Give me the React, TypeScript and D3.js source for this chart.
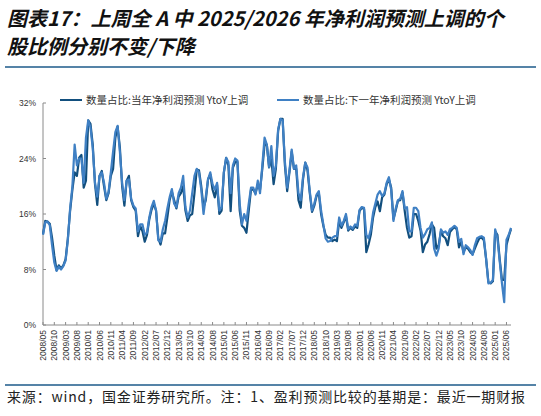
import * as d3 from "d3";
import React from "react";

// 2008/05 onwards, one value per month (%)
const curYear: number[] = [
  13.1, 15.0, 14.9, 14.6, 12.6, 10.0, 7.9, 8.6, 8.2, 8.6, 9.5, 12.5,
  16.5, 19.5, 22.0, 21.5, 24.1, 24.5, 19.8, 20.8, 29.5, 29.0, 26.0, 20.3,
  17.3, 21.5, 22.2, 20.0, 18.0, 19.0, 21.5, 22.5, 27.0, 28.6, 25.6, 20.0,
  17.2, 20.8, 21.5, 18.0, 17.0, 16.5, 12.8, 14.3, 13.5, 12.0, 13.0, 15.2,
  16.6, 17.5, 16.5, 12.5, 11.6, 13.2, 13.2, 15.5, 18.0, 19.2, 18.0, 16.8,
  18.5, 19.0, 20.0, 16.5, 15.0, 15.8, 16.0, 19.0, 22.4, 22.3, 20.0, 17.0,
  18.0, 21.0, 21.7, 19.5, 18.4, 20.2, 16.0, 16.5, 22.0, 24.1, 23.0, 16.4,
  22.7, 23.5, 23.5, 16.5, 14.3, 14.0, 13.3, 16.5, 19.5, 19.5, 19.0, 20.3,
  19.5, 22.5, 26.0, 26.0, 22.7, 24.0, 20.3, 22.5, 28.0, 29.7, 29.7, 23.0,
  19.3, 22.0, 25.0, 22.5, 22.5, 18.0, 16.9, 21.0, 23.4, 22.3, 19.0, 16.3,
  17.2, 18.6, 19.0, 16.0, 14.3, 13.0, 12.6, 12.6, 12.1, 12.3, 12.1, 15.0,
  14.0, 14.8, 15.7, 13.6, 14.0, 13.7, 14.2, 14.0, 16.4, 16.9, 16.7, 10.5,
  11.6, 13.0, 15.5, 17.0, 17.8, 16.4, 18.4, 18.8, 20.3, 21.0, 19.8, 15.3,
  16.5, 17.9, 18.0, 19.1, 16.4, 14.0, 12.6, 12.8, 16.0, 16.0, 15.0, 13.6,
  10.5, 11.6, 12.0, 13.1, 14.5, 14.0, 11.0, 11.5, 13.5, 12.8, 12.5, 11.5,
  13.4, 13.8, 14.1, 13.8, 11.2, 12.0, 10.5, 11.2, 11.0, 10.5, 10.2, 11.0,
  11.8, 12.5, 12.6, 12.2, 9.5, 6.2, 6.0, 6.3, 13.5, 13.0, 9.5, 6.5,
  6.5, 11.5, 12.8, 13.8,
];

const nextYear: number[] = [
  13.0, 14.8, 14.9, 14.4, 11.5, 9.0, 7.8, 8.4, 8.0, 8.5, 9.3, 12.3,
  16.8, 20.0, 26.0, 23.0, 24.0, 24.0, 20.5, 27.0, 29.5, 28.5, 25.5, 20.5,
  18.5, 21.5, 22.0, 20.5, 18.2, 19.2, 22.0, 25.0, 27.8, 28.7, 25.0, 20.5,
  18.0, 20.8, 21.0, 18.2, 17.2, 16.8, 13.5, 14.5, 14.5, 13.0, 13.3, 15.5,
  17.0, 17.9, 16.5, 12.2, 12.0, 13.8, 15.0, 16.8, 18.4, 19.6, 17.5, 17.0,
  19.0, 19.8, 21.5, 17.0, 15.5, 16.5, 19.0, 21.5, 22.5, 22.0, 19.5, 16.0,
  18.5, 21.0, 22.0, 20.3, 19.5, 20.5, 16.5, 17.0, 22.0, 24.1, 23.5, 19.0,
  23.0, 24.0, 23.7, 17.5, 14.5, 16.0, 15.0, 17.5, 19.8, 19.8, 18.8, 20.8,
  19.0, 23.0, 27.0, 26.0, 22.8, 25.8, 21.5, 23.0, 28.2, 29.7, 29.5, 23.5,
  19.8, 22.3, 25.3, 22.5, 23.0, 19.0, 18.0, 21.3, 23.4, 22.7, 19.3, 16.5,
  17.5, 18.8, 19.3, 16.5, 14.5, 12.5, 12.0, 12.1, 12.6, 12.8, 12.8, 15.5,
  14.3, 15.0, 16.0, 13.8, 14.2, 13.9, 14.5, 14.3, 16.6, 17.0, 16.9, 13.0,
  12.5, 13.8, 16.2, 17.5, 18.8, 19.3, 18.6, 19.0, 20.5, 21.3, 19.5, 15.0,
  16.8, 18.0, 18.2, 19.3, 16.8, 17.0, 13.5, 13.5, 16.9, 16.9, 16.4, 14.0,
  12.6, 13.1, 13.8, 14.0, 14.8, 11.0, 10.0, 11.0, 13.8, 13.3, 13.5, 13.0,
  13.8, 14.0, 14.3, 14.0, 12.0, 12.4, 10.2, 11.5, 11.2, 10.8, 10.1, 11.5,
  12.5, 12.7, 12.8, 12.6, 9.5, 6.0, 6.1, 6.5, 13.8, 12.5, 9.2, 6.0,
  3.3, 12.3, 13.0, 14.0,
];

const xTickLabels: string[] = [
  "2008/05", "2008/10", "2009/03", "2009/08", "2010/01", "2010/06", "2010/11",
  "2011/04", "2011/09", "2012/02", "2012/07", "2012/12", "2013/05", "2013/10",
  "2014/03", "2014/08", "2015/01", "2015/06", "2015/11", "2016/04", "2016/09",
  "2017/02", "2017/07", "2017/12", "2018/05", "2018/10", "2019/03", "2019/08",
  "2020/01", "2020/06", "2020/11", "2021/04", "2021/09", "2022/02", "2022/07",
  "2022/12", "2023/05", "2023/10", "2024/03", "2024/08", "2025/01", "2025/06",
];

const yTicks: number[] = [0, 8, 16, 24, 32];

const seriesNames: string[] = [
  "数量占比:当年净利润预测 YtoY上调",
  "数量占比:下一年净利润预测 YtoY上调",
];
const seriesColors: string[] = ["#124f7e", "#3f80c4"];

const titleLines: string[] = [
  "图表17：上周全 A 中 2025/2026 年净利润预测上调的个",
  "股比例分别不变/下降",
];
const sourceText = "来源：wind，国金证券研究所。注：1、盈利预测比较的基期是：最近一期财报";

const W = 541;
const H = 416;
const plot = { left: 43, right: 511, top: 103, bottom: 325 };
const ruleColor = "#1d5a8a";

// month offset from 2008/05 for a "YYYY/MM" label
const monthIndex = (label: string) => {
  const [y, m] = label.split("/").map(Number);
  return (y - 2008) * 12 + (m - 5);
};

const App: React.FC = () => {
  const x = d3.scaleLinear().domain([0, curYear.length - 1]).range([plot.left, plot.right]);
  const y = d3.scaleLinear().domain([0, 32]).range([plot.bottom, plot.top]);

  const line = d3
    .line<number>()
    .x((_, i) => x(i))
    .y((d) => y(d));

  const sans = "'Liberation Sans', Arial, sans-serif";
  const cjk = "'Noto Sans CJK SC', sans-serif";

  return (
    <div style={{ position: "absolute", left: 0, top: 0 }}>
      <svg width={W} height={H} style={{ display: "block", background: "#fff" }}>
        {titleLines.map((t, i) => (
          <text
            key={t}
            x={7}
            y={26 + i * 28}
            fontFamily={cjk}
            fontSize={20}
            fontWeight={700}
            fontStyle="italic"
            fill="#111"
          >
            {t}
          </text>
        ))}
        <line x1={5} x2={536} y1={67} y2={67} stroke={ruleColor} strokeWidth={1.5} />

        {/* legend */}
        {seriesNames.map((name, i) => {
          const lx = i === 0 ? 60 : 277;
          return (
            <g key={name}>
              <line x1={lx} x2={lx + 22} y1={100} y2={100} stroke={seriesColors[i]} strokeWidth={2} />
              <text x={lx + 26} y={104} fontFamily={cjk} fontSize={10.5} fill="#333">
                {name}
              </text>
            </g>
          );
        })}

        {/* y axis */}
        <line x1={plot.left} x2={plot.left} y1={plot.top} y2={plot.bottom} stroke="#8a8a8a" strokeWidth={1} />
        {yTicks.map((t) => (
          <g key={t}>
            <line x1={plot.left} x2={plot.left + 3} y1={y(t)} y2={y(t)} stroke="#8a8a8a" />
            <text x={36} y={y(t) + 3} textAnchor="end" fontFamily={sans} fontSize={8.5} fill="#333">
              {`${t}%`}
            </text>
          </g>
        ))}

        {/* x axis */}
        <line x1={plot.left} x2={plot.right} y1={plot.bottom} y2={plot.bottom} stroke="#8a8a8a" strokeWidth={1} />
        {xTickLabels.map((lab) => {
          const tx = x(monthIndex(lab));
          return (
            <g key={lab}>
              <line x1={tx} x2={tx} y1={plot.bottom} y2={plot.bottom - 3} stroke="#8a8a8a" />
              <text
                transform={`translate(${tx + 3},${plot.bottom + 5}) rotate(-90)`}
                textAnchor="end"
                fontFamily={sans}
                fontSize={8.5}
                fill="#333"
              >
                {lab}
              </text>
            </g>
          );
        })}

        {/* series */}
        <path d={line(curYear) ?? ""} fill="none" stroke={seriesColors[0]} strokeWidth={2.2} strokeLinejoin="round" />
        <path d={line(nextYear) ?? ""} fill="none" stroke={seriesColors[1]} strokeWidth={2.2} strokeLinejoin="round" />

        <line x1={5} x2={536} y1={385} y2={385} stroke={ruleColor} strokeWidth={1.5} />
        <text
          x={7}
          y={402}
          fontFamily={cjk}
          fontSize={14}
          fill="#222"
          textLength={518}
          lengthAdjust="spacing"
        >
          {sourceText}
        </text>
      </svg>
    </div>
  );
};

export default App;
